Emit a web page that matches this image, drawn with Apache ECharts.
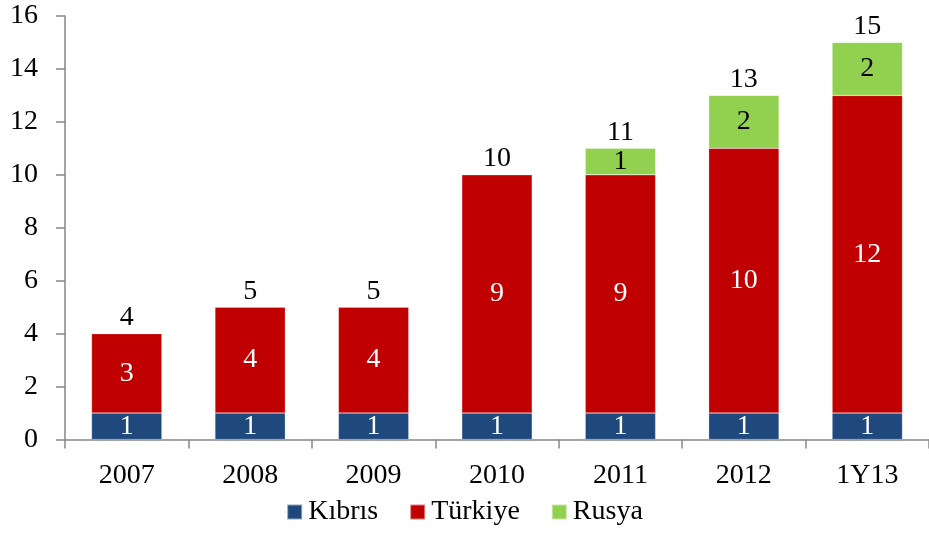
<!DOCTYPE html>
<html>
<head>
<meta charset="utf-8">
<script src="https://cdn.jsdelivr.net/npm/echarts@6/dist/echarts.min.js"></script>
<style>
  html, body { margin: 0; padding: 0; background: #fff; }
  #chart { width: 929px; height: 534px; }
</style>
</head>
<body>
<div id="chart"></div>
<script>
// veriler
var categories = ['2007', '2008', '2009', '2010', '2011', '2012', '1Y13'];
var kibris = [1, 1, 1, 1, 1, 1, 1];
var turkiye = [3, 4, 4, 9, 9, 10, 12];
var rusya = [null, null, null, null, 1, 2, 2];
var yTicks = [0, 2, 4, 6, 8, 10, 12, 14, 16];

var totals = categories.map(function (c, i) {
    return (kibris[i] || 0) + (turkiye[i] || 0) + (rusya[i] || 0);
});

var FONT = '"Liberation Serif", "Times New Roman", serif';
var chart = echarts.init(document.getElementById('chart'), null, {renderer: 'canvas'});

function seg(name, data, color, labelColor) {
    return {
        name: name,
        type: 'bar',
        stack: 'total',
        data: data,
        barCategoryGap: '43%',
        itemStyle: {color: color, borderColor: 'rgba(255,255,255,0.5)', borderWidth: 0.5},
        label: {
            show: true,
            position: 'inside',
            color: labelColor,
            fontFamily: FONT,
            fontSize: 28
        }
    };
}

var option = {
    animation: false,
    textStyle: {fontFamily: FONT},
    grid: {left: 65, top: 16, width: 868, height: 423.5, containLabel: false},
    legend: {
        bottom: 3,
        left: 'center',
        itemWidth: 15,
        itemHeight: 15,
        itemGap: 31,
        icon: 'rect',
        textStyle: {fontFamily: FONT, fontSize: 28, color: '#000', padding: [0, 0, 0, 1]},
        data: ['Kıbrıs', 'Türkiye', 'Rusya']
    },
    xAxis: {
        type: 'category',
        data: categories,
        axisLine: {lineStyle: {color: '#868686', width: 1.5}},
        axisTick: {show: true, length: 9, lineStyle: {color: '#868686', width: 1.5}},
        axisLabel: {color: '#000', fontFamily: FONT, fontSize: 28, margin: 22}
    },
    yAxis: {
        type: 'value',
        min: yTicks[0],
        max: yTicks[yTicks.length - 1],
        interval: yTicks[1] - yTicks[0],
        splitLine: {show: false},
        axisLine: {show: true, lineStyle: {color: '#868686', width: 1.5}},
        axisTick: {show: true, length: 9, lineStyle: {color: '#868686', width: 1.5}},
        axisLabel: {color: '#000', fontFamily: FONT, fontSize: 28, margin: 27}
    },
    series: [
        seg('Kıbrıs', kibris, '#1F497D', '#fff'),
        seg('Türkiye', turkiye, '#C00000', '#fff'),
        seg('Rusya', rusya, '#92D050', '#000'),
        {
            name: 'Toplam',
            type: 'scatter',
            data: totals,
            symbolSize: 0,
            silent: true,
            itemStyle: {opacity: 1},
            label: {
                show: true,
                position: 'top',
                distance: 2,
                color: '#000',
                opacity: 1,
                fontFamily: FONT,
                fontSize: 28
            }
        }
    ]
};

chart.setOption(option);
</script>
</body>
</html>
